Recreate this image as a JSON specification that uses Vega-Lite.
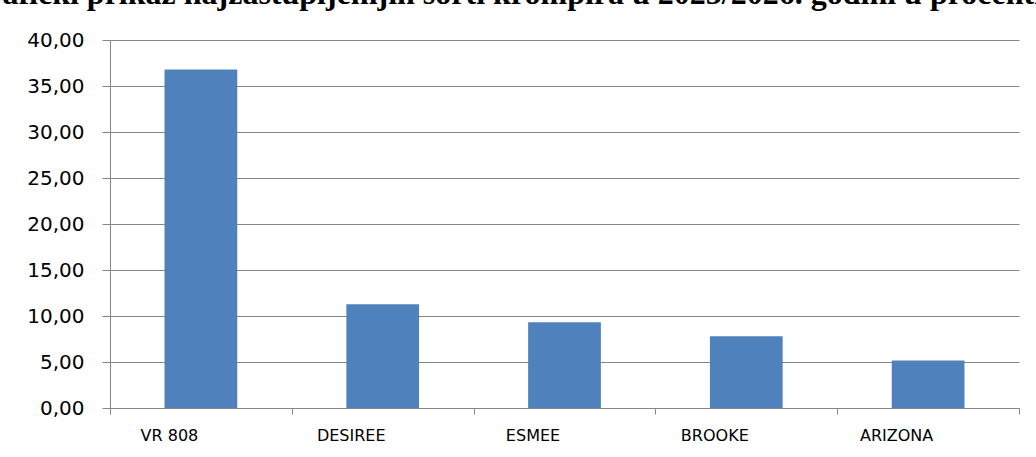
{
  "$schema": "https://vega.github.io/schema/vega-lite/v6.json",
  "autosize": "none",
  "width": 909,
  "height": 368,
  "padding": {"left": 110, "top": 40, "right": 17, "bottom": 49},
  "background": "white",
  "title": {
    "text": "Grafički prikaz najzastupljenijih sorti krompira u 2025/2026. godini u procentima",
    "font": "Liberation Serif",
    "fontSize": 32,
    "fontWeight": "bold",
    "color": "black",
    "anchor": "middle",
    "frame": "group",
    "dx": -40,
    "offset": 19
  },
  "data": {
    "values": [
      {"sorta": "VR 808", "procenat": 36.8},
      {"sorta": "DESIREE", "procenat": 11.27},
      {"sorta": "ESMEE", "procenat": 9.31},
      {"sorta": "BROOKE", "procenat": 7.81},
      {"sorta": "ARIZONA", "procenat": 5.17}
    ]
  },
  "mark": {"type": "bar", "color": "#4F81BD", "width": {"band": 0.4}},
  "encoding": {
    "x": {
      "field": "sorta",
      "type": "nominal",
      "sort": null,
      "scale": {"paddingInner": 0, "paddingOuter": 0},
      "axis": {
        "title": null,
        "labelAngle": 0,
        "tickBand": "extent",
        "tickSize": 6,
        "tickColor": "#868686",
        "domainColor": "#868686",
        "labelOffset": -32,
        "labelPadding": 13,
        "labelFont": "DejaVu Sans",
        "labelFontSize": 16,
        "labelColor": "black",
        "grid": false
      }
    },
    "y": {
      "field": "procenat",
      "type": "quantitative",
      "scale": {"domain": [0, 40], "nice": false},
      "axis": {
        "title": null,
        "values": [0, 5, 10, 15, 20, 25, 30, 35, 40],
        "format": ".2f",
        "grid": true,
        "gridColor": "#868686",
        "gridWidth": 1,
        "tickSize": 8,
        "tickColor": "#868686",
        "domainColor": "#868686",
        "labelPadding": 18,
        "labelFont": "DejaVu Sans",
        "labelFontSize": 20,
        "labelColor": "black"
      }
    }
  },
  "config": {
    "view": {"stroke": null},
    "locale": {
      "number": {"decimal": ",", "thousands": ".", "grouping": [3], "currency": ["", " €"]}
    }
  }
}
